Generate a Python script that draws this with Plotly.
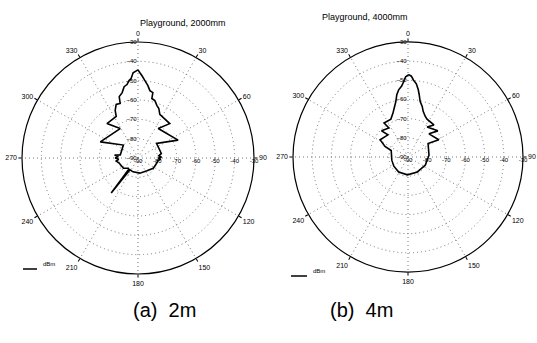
import plotly.graph_objects as go

W, H = 537, 343

# ---- data (angle in degrees, clockwise from top; level in dBm) ----
theta_2m = [0, 1.3, 2.8, 5.1, 7.8, 10, 12.8, 13.1, 16.3, 19.7, 22.8, 26.6,
            42.7, 34.4, 66, 51.8, 79, 84, 88, 90, 93, 97, 104.7, 124, 145,
            173, 199.7, 214, 217.4, 219.5, 223, 235, 255, 262, 266, 270, 274,
            277, 280, 311.5, 293.2, 328.8, 318, 332.4, 334.4, 337.8, 341.9,
            343, 346.4, 349, 351.5, 353.4, 355, 356.7, 360]
db_2m = [-44.4, -45.9, -47.4, -49.8, -52.2, -54.6, -55.3, -58.4, -59.0, -61.1,
         -62.2, -64.8, -65.8, -71.5, -67.3, -77.8, -77.7, -79.2, -77.8, -79.5,
         -78.2, -79.6, -79.9, -80.5, -81.9, -82.1, -82.4, -82.6, -67.2, -82.5,
         -82.7, -80.8, -79.9, -78.6, -80.0, -78.2, -79.8, -77.8, -80.7, -79.9,
         -68.8, -72.2, -66.0, -65.7, -62.7, -60.1, -60.3, -56.8, -55.2, -52.4,
         -51.6, -49.7, -48.8, -45.8, -44.4]

theta_4m = [0.5, 2.4, 4, 6.5, 8.7, 10.2, 12.4, 15.7, 18.4, 22.8, 26.7, 39,
            32.4, 48.8, 42.2, 60.7, 56.2, 85, 99.6, 115, 148, 181.6, 212, 237,
            259, 291.3, 294.5, 301.8, 317.9, 314.7, 326.7, 324.8, 335.7, 340.9,
            344.6, 347.6, 349.8, 352.1, 354.9, 356.6, 358.3, 360.5]
db_4m = [-47.0, -47.8, -49.7, -51.6, -54.5, -57.0, -60.4, -62.6, -64.9, -66.9,
         -67.9, -68.5, -71.4, -69.3, -73.7, -71.6, -77.4, -79.0, -79.9, -80.0,
         -80.8, -80.7, -80.8, -81.2, -81.4, -80.6, -76.8, -72.9, -74.4, -70.6,
         -71.9, -68.3, -68.3, -65.9, -63.2, -60.4, -57.0, -54.6, -52.8, -50.8,
         -48.1, -47.0]

r_ticks = [-90, -80, -70, -60, -50, -40, -30]
ang_ticks = [0, 30, 60, 90, 120, 150, 180, 210, 240, 270, 300, 330]
titles = ["Playground, 2000mm", "Playground, 4000mm"]
captions = ["(a)\u00a0 2m", "(b)\u00a0 4m"]
series_name = "dBm"

FONT = "Liberation Sans, Arial, sans-serif"

# plot geometry in pixels: (center x, center y, radius)
geo = [(138, 158, 116), (408, 157, 115)]

fig = go.Figure()
subplots = ["polar", "polar2"]
for sub, th, db in zip(subplots, [theta_2m, theta_4m], [db_2m, db_4m]):
    fig.add_trace(go.Scatterpolar(
        r=db, theta=th, mode="lines", name=series_name,
        line=dict(color="black", width=1.6), showlegend=False, subplot=sub))
    fig.add_trace(go.Scatterpolar(
        r=r_ticks, theta=[90] * len(r_ticks), mode="text",
        text=[str(v) for v in r_ticks], textposition="bottom center",
        textfont=dict(size=6, color="black", family=FONT),
        cliponaxis=False, showlegend=False, hoverinfo="skip", subplot=sub))


def polar_layout(cx, cy, rad):
    dx = [(cx - rad) / W, (cx + rad) / W]
    dy = [1 - (cy + rad) / H, 1 - (cy - rad) / H]
    return dict(
        domain=dict(x=dx, y=dy),
        bgcolor="white",
        angularaxis=dict(
            rotation=90, direction="clockwise",
            tickmode="array", tickvals=ang_ticks,
            ticktext=[str(a) for a in ang_ticks],
            ticks="outside", ticklen=3, tickcolor="black",
            showline=True, linecolor="black", linewidth=1.2,
            showgrid=True, gridcolor="#777", griddash="1px,3px", gridwidth=1,
            tickfont=dict(size=7, family=FONT, color="black")),
        radialaxis=dict(
            range=[-90, -30], tickmode="array", tickvals=r_ticks,
            angle=90, side="counterclockwise", tickangle=90,
            showline=False, ticks="",
            showgrid=True, gridcolor="#777", griddash="1px,3px", gridwidth=1,
            tickfont=dict(size=6, family=FONT, color="black")),
    )


annotations = []
shapes = []
title_pos = [(138, 16), (410, 10)]
caption_pos = [(131, 323), (395, 323)]
legend_pos = [(23, 37, 269), (291, 307, 276)]
for i in range(2):
    tx, ty = title_pos[i]
    annotations.append(dict(x=tx / W, y=1 - ty / H, xref="paper", yref="paper",
                            text=titles[i], showarrow=False,
                            font=dict(size=9, family=FONT, color="black")))
    cx_, cy_ = caption_pos[i]
    annotations.append(dict(x=cx_ / W, y=1 - cy_ / H, xref="paper", yref="paper",
                            text=captions[i], showarrow=False,
                            font=dict(size=20, family=FONT, color="black")))
    x0, x1, ly = legend_pos[i]
    shapes.append(dict(type="line", xref="paper", yref="paper",
                       x0=x0 / W, x1=x1 / W, y0=1 - ly / H, y1=1 - ly / H,
                       line=dict(color="black", width=1.5)))
    annotations.append(dict(x=(x1 + 4) / W, y=1 - ly / H, xref="paper", yref="paper",
                            text=series_name, showarrow=False, xanchor="left",
                            font=dict(size=6, family=FONT, color="black")))

fig.update_layout(
    width=W, height=H,
    margin=dict(l=0, r=0, t=0, b=0),
    paper_bgcolor="white",
    showlegend=False,
    polar=polar_layout(*geo[0]),
    polar2=polar_layout(*geo[1]),
    annotations=annotations,
    shapes=shapes,
)

fig.write_html("out.html")
